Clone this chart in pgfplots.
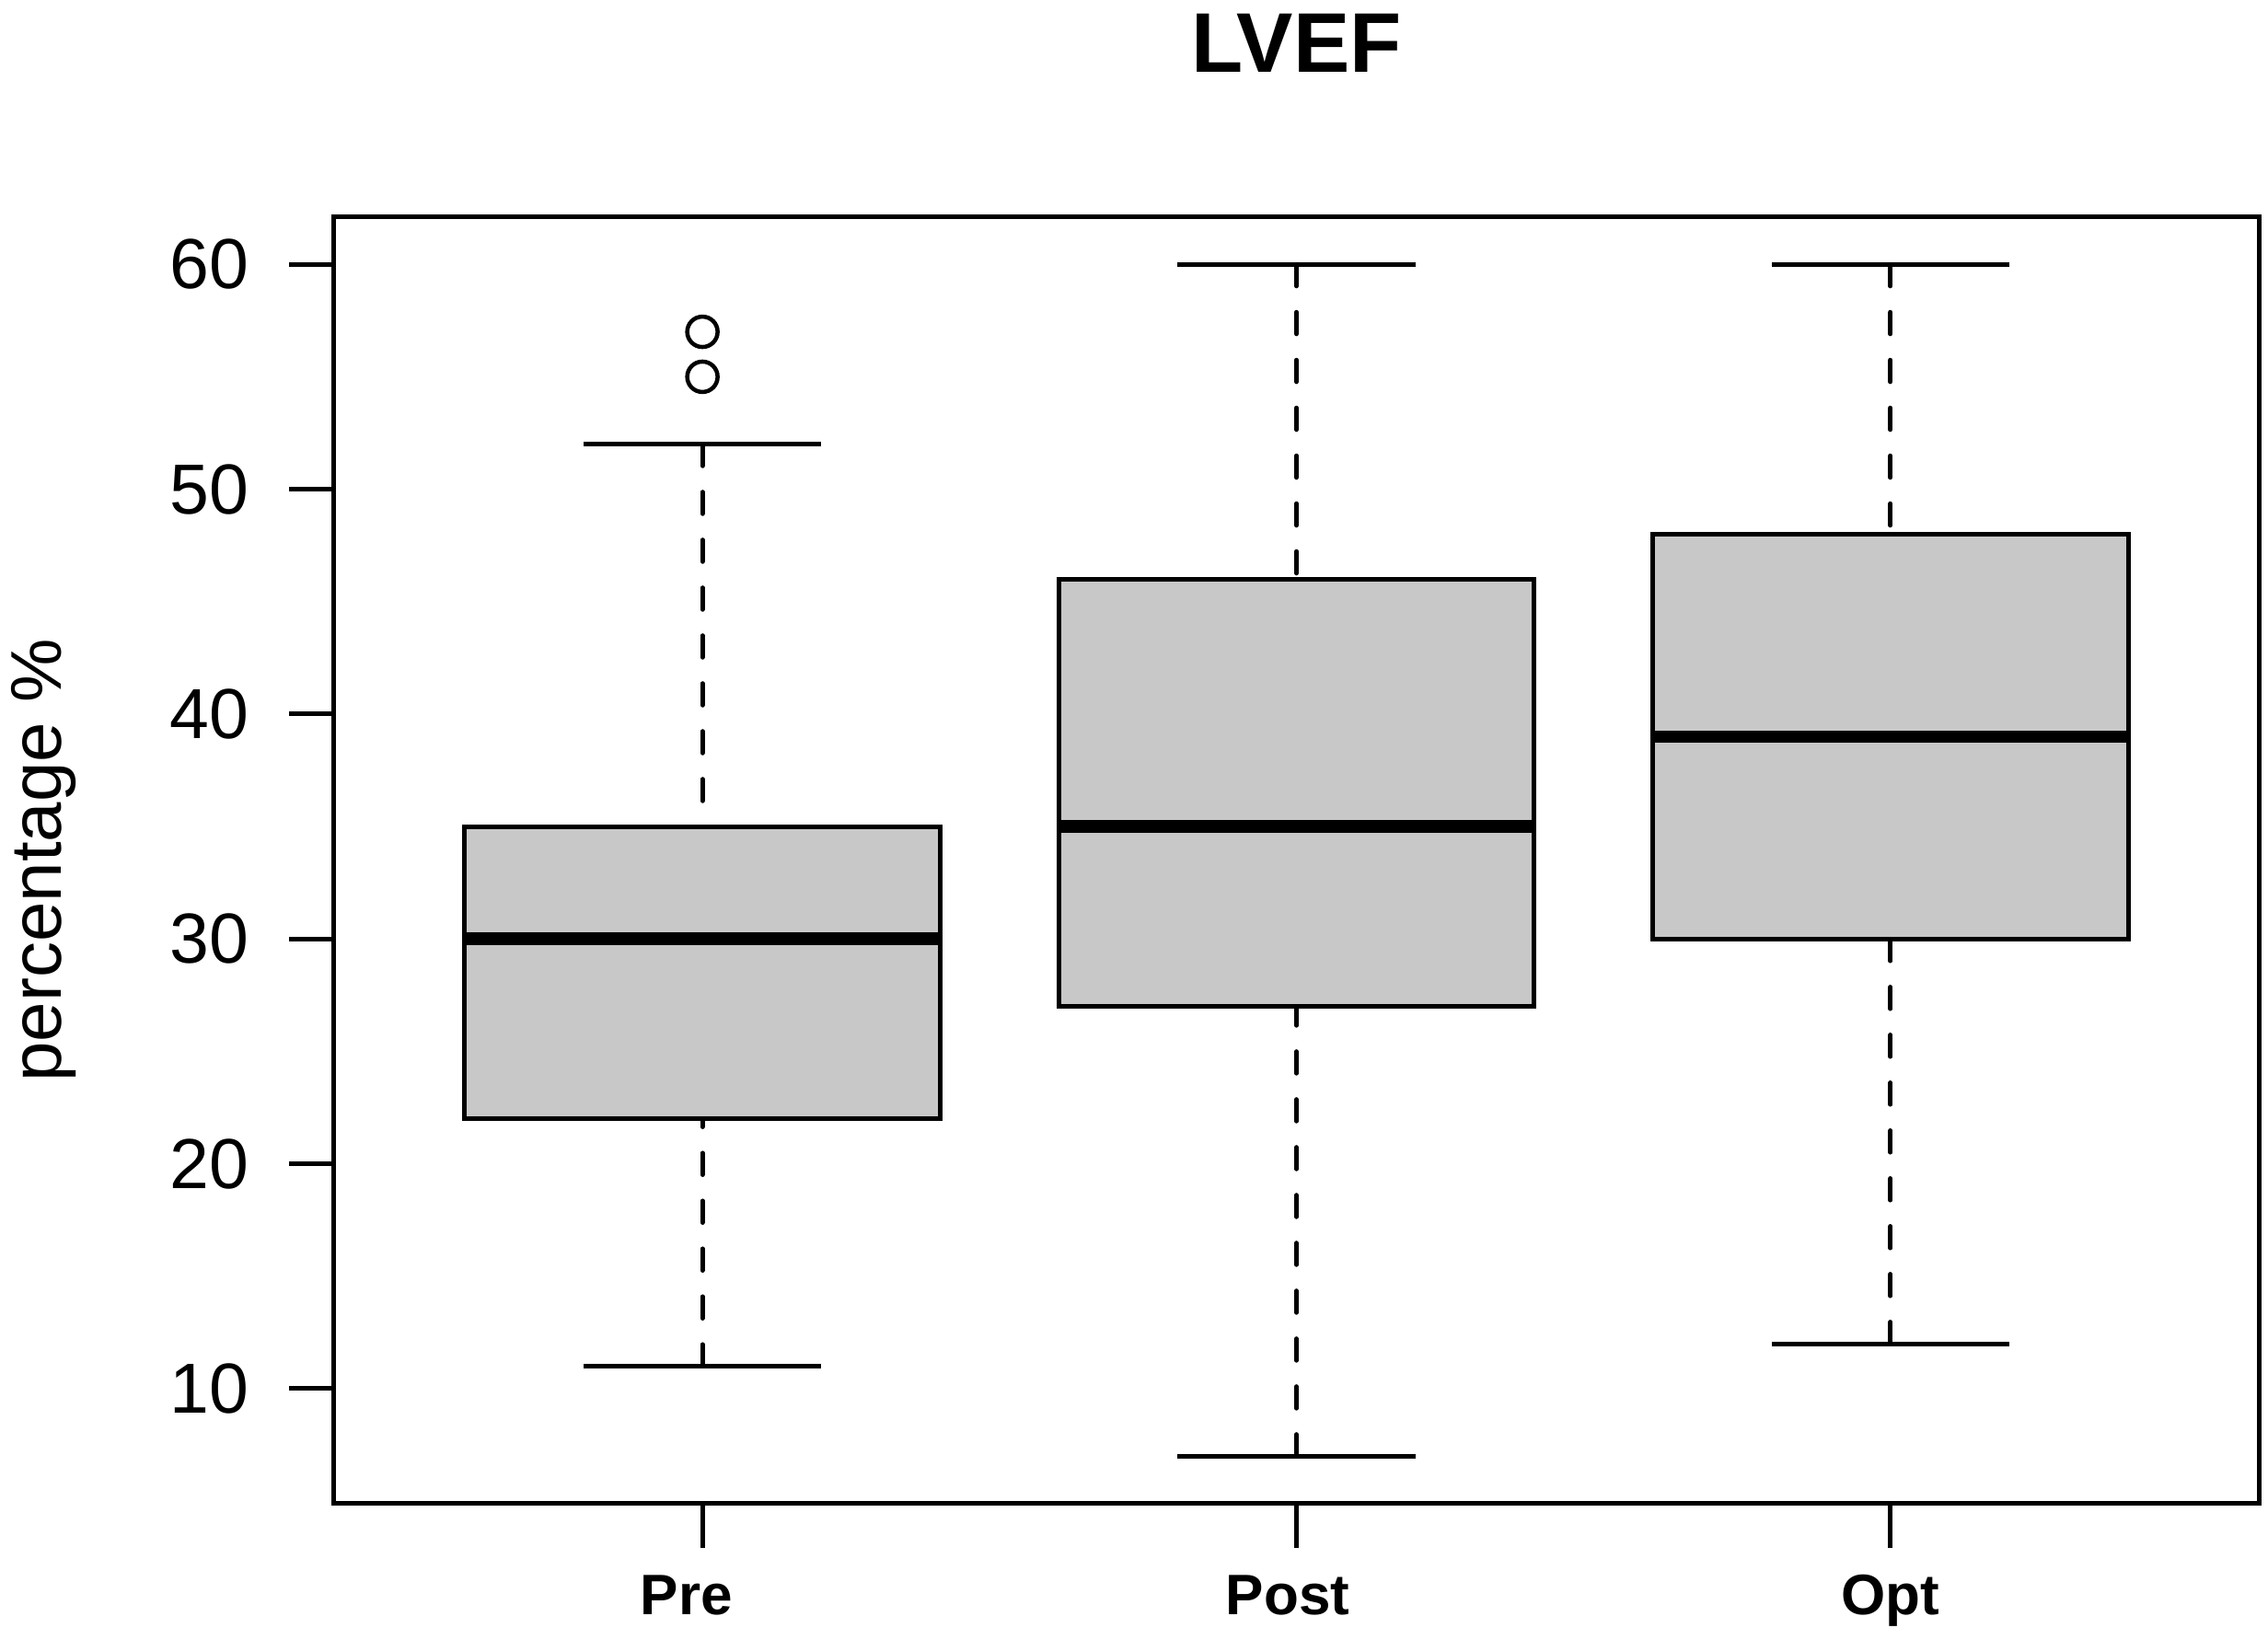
\documentclass[border=0pt]{standalone}
\usepackage{fontspec}
\setmainfont{Liberation Sans}
\usepackage{pgfplots}
\pgfplotsset{compat=1.18}
\usepgfplotslibrary{statistics}

\definecolor{boxgray}{RGB}{200,200,200}

% R-style whiskers: dashed stem from the whisker end to the box, solid staple
\pgfplotsset{
  boxplot/draw direction=y,
  boxplot/box extend=0.8,
  boxplot/whisker extend=0.4,
  boxplot/every box/.style={draw=black, line width=1pt, fill=boxgray},
  boxplot/every median/.style={draw=black, line width=2.7pt},
  boxplot/draw/lower whisker/.code={%
    \draw[black, line width=1pt, line cap=round, dash pattern=on 4.7pt off 5.7pt]
      (boxplot cs:\pgfplotsboxplotvalue{lower whisker}) --
      (boxplot cs:\pgfplotsboxplotvalue{lower quartile});
    \draw[black, line width=1pt, solid]
      (boxplot whisker cs:\pgfplotsboxplotvalue{lower whisker},0) --
      (boxplot whisker cs:\pgfplotsboxplotvalue{lower whisker},1);
  },
  boxplot/draw/upper whisker/.code={%
    \draw[black, line width=1pt, line cap=round, dash pattern=on 4.7pt off 5.7pt]
      (boxplot cs:\pgfplotsboxplotvalue{upper whisker}) --
      (boxplot cs:\pgfplotsboxplotvalue{upper quartile});
    \draw[black, line width=1pt, solid]
      (boxplot whisker cs:\pgfplotsboxplotvalue{upper whisker},0) --
      (boxplot whisker cs:\pgfplotsboxplotvalue{upper whisker},1);
  },
  rbox/.style={black, mark=o, mark size=3.3pt, mark options={line width=0.9pt, solid}},
}

\begin{document}
\begin{tikzpicture}
\path[use as bounding box] (-72.6pt,-32pt) rectangle (420.2pt,326.8pt);
\begin{axis}[
    at={(0,0)}, anchor=south west,
    scale only axis,
    width=418.2pt, height=279.7pt,
    xmin=0.38, xmax=3.62,
    ymin=4.88, ymax=62.12,
    xtick={1,2,3},
    xticklabels={\kern-7pt Pre,\kern-3.8pt Post,Opt},
    ytick={10,20,30,40,50,60},
    xtick pos=bottom, ytick pos=left,
    tick align=outside,
    major tick length=9.7pt,
    every tick/.style={black, line width=1pt},
    axis line style={line width=1pt},
    /pgf/number format/assume math mode=true,
    yticklabel style={font=\fontsize{15.4}{18}\selectfont, anchor=east, inner sep=0pt, xshift=-8.7pt},
    xticklabel style={font=\fontsize{12.4}{15}\selectfont\bfseries, anchor=base, inner sep=0pt, yshift=-14.5pt},
    title={LVEF},
    every axis title shift=0pt,
    title style={font=\fontsize{18.4}{22}\selectfont\bfseries, at={(0.5,1.1119)}, anchor=base, yshift=0pt, inner sep=0pt},
    ylabel={percentage \%},
    ylabel style={font=\fontsize{15.6}{18}\selectfont, at={(axis description cs:-0.14156,0.5)}, anchor=base, inner sep=0pt},
]
\addplot+[rbox, boxplot prepared={draw position=1,
    lower whisker=11, lower quartile=22, median=30,
    upper quartile=35, upper whisker=52}]
  coordinates {(0,55) (0,57)};
\addplot+[rbox, boxplot prepared={draw position=2,
    lower whisker=7, lower quartile=27, median=35,
    upper quartile=46, upper whisker=60}]
  coordinates {};
\addplot+[rbox, boxplot prepared={draw position=3,
    lower whisker=12, lower quartile=30, median=39,
    upper quartile=48, upper whisker=60}]
  coordinates {};
\end{axis}
\end{tikzpicture}
\end{document}
